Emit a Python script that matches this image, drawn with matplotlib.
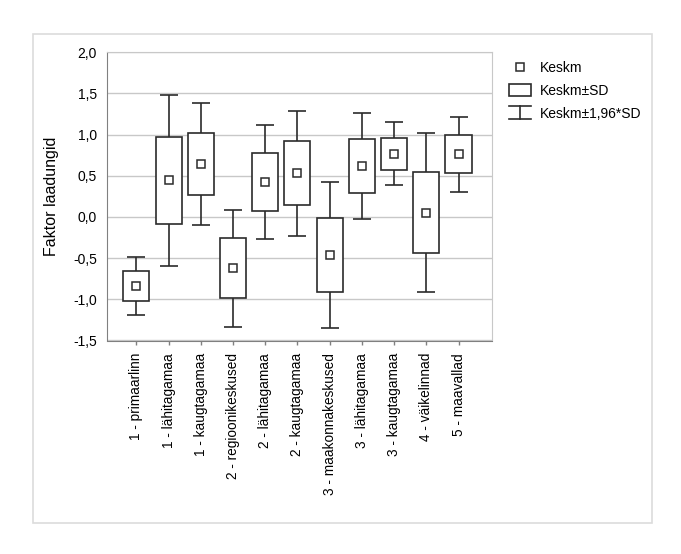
import numpy as np
import matplotlib
matplotlib.use("Agg")
import matplotlib.pyplot as plt
from matplotlib.patches import Rectangle, Patch
from matplotlib.lines import Line2D
from matplotlib.legend_handler import HandlerBase
from matplotlib.ticker import FuncFormatter, MultipleLocator

plt.rcParams['font.family'] = ['Liberation Sans', 'DejaVu Sans']

categories = ['1 - primaarlinn', '1 - lähitagamaa', '1 - kaugtagamaa',
              '2 - regioonikeskused', '2 - lähitagamaa', '2 - kaugtagamaa',
              '3 - maakonnakeskused', '3 - lähitagamaa', '3 - kaugtagamaa',
              '4 - väikelinnad', '5 - maavallad']
means = [-0.835, 0.447, 0.640, -0.624, 0.426, 0.532, -0.464, 0.615, 0.767, 0.052, 0.762]
sds = [0.180, 0.530, 0.378, 0.363, 0.352, 0.387, 0.451, 0.329, 0.195, 0.492, 0.232]

means = np.array(means)
sds = np.array(sds)
x = np.arange(len(categories))
dark = '#2b2b2b'

fig = plt.figure(figsize=(6.81, 5.54), dpi=100)
ax = fig.add_axes([106.7/681, 1 - 340.5/554, 385/681, 288.2/554])

#whiskers (mean +- 1.96*SD), partly hidden behind the boxes
ax.errorbar(x, means, yerr=1.96*sds, fmt='none', ecolor=dark, elinewidth=1.2,
            capsize=6.8, capthick=1.2, zorder=2)
#boxes (mean +- SD)
ax.bar(x, 2*sds, bottom=means - sds, width=0.81, facecolor='white',
       edgecolor=dark, linewidth=1.2, zorder=3)
#mean markers
ax.plot(x, means, linestyle='none', marker='s', markersize=5.8, markerfacecolor='white',
        markeredgecolor=dark, markeredgewidth=1.1, zorder=4)

ax.set_xlim(-0.92, len(categories) - 1 + 1.03)
ax.set_ylim(-1.5, 2.0)
ax.yaxis.set_major_locator(MultipleLocator(0.5))
ax.yaxis.set_major_formatter(FuncFormatter(lambda v, _: f"{v:.1f}".replace('.', ',')))
ax.set_xticks(x)
ax.set_xticklabels(categories, rotation=90, fontsize=9.8)
ax.tick_params(axis='x', length=3, width=1, color='#808080', pad=6)
ax.tick_params(axis='y', length=0, pad=7, labelsize=10)
ax.grid(axis='y', color='#c8c8c8', linewidth=1)
ax.set_axisbelow(True)
for side in ['left', 'bottom']:
    ax.spines[side].set_color('#808080')
for side in ['top', 'right']:
    ax.spines[side].set_color('#c8c8c8')
ax.set_ylabel('Faktor laadungid', fontsize=11.5, labelpad=10)


class IBeamHandler(HandlerBase):
    def create_artists(self, legend, orig_handle, xdescent, ydescent,
                       width, height, fontsize, trans):
        cx = -xdescent + width/2
        y0 = -ydescent - 0.05*height
        y1 = -ydescent + 1.05*height
        x0 = -xdescent
        x1 = -xdescent + width
        lines = [Line2D([cx, cx], [y0, y1]), Line2D([x0, x1], [y0, y0]),
                 Line2D([x0, x1], [y1, y1])]
        for ln in lines:
            ln.set_color(dark)
            ln.set_linewidth(1.2)
            ln.set_transform(trans)
        return lines


h_mean = Line2D([], [], linestyle='none', marker='s', markersize=5.8, markerfacecolor='white',
                markeredgecolor=dark, markeredgewidth=1.1)
h_box = Patch(facecolor='white', edgecolor=dark, linewidth=1.2)
h_whisk = object()
fig.legend([h_mean, h_box, h_whisk], ['Keskm', 'Keskm±SD', 'Keskm±1,96*SD'],
           handler_map={object: IBeamHandler()},
           loc='upper left', bbox_to_anchor=(509/681, 1 - 61.3/554),
           frameon=False, fontsize=10, borderpad=0, borderaxespad=0,
           handlelength=1.6, handleheight=0.9, handletextpad=0.65, labelspacing=0.62)

fig.patches.append(Rectangle((33.3/681, 1 - 522.7/554), 619/681, 488.4/554,
                             transform=fig.transFigure, fill=False,
                             edgecolor='#dcdcdc', linewidth=1.2))

fig.savefig('out.png', dpi=100)
